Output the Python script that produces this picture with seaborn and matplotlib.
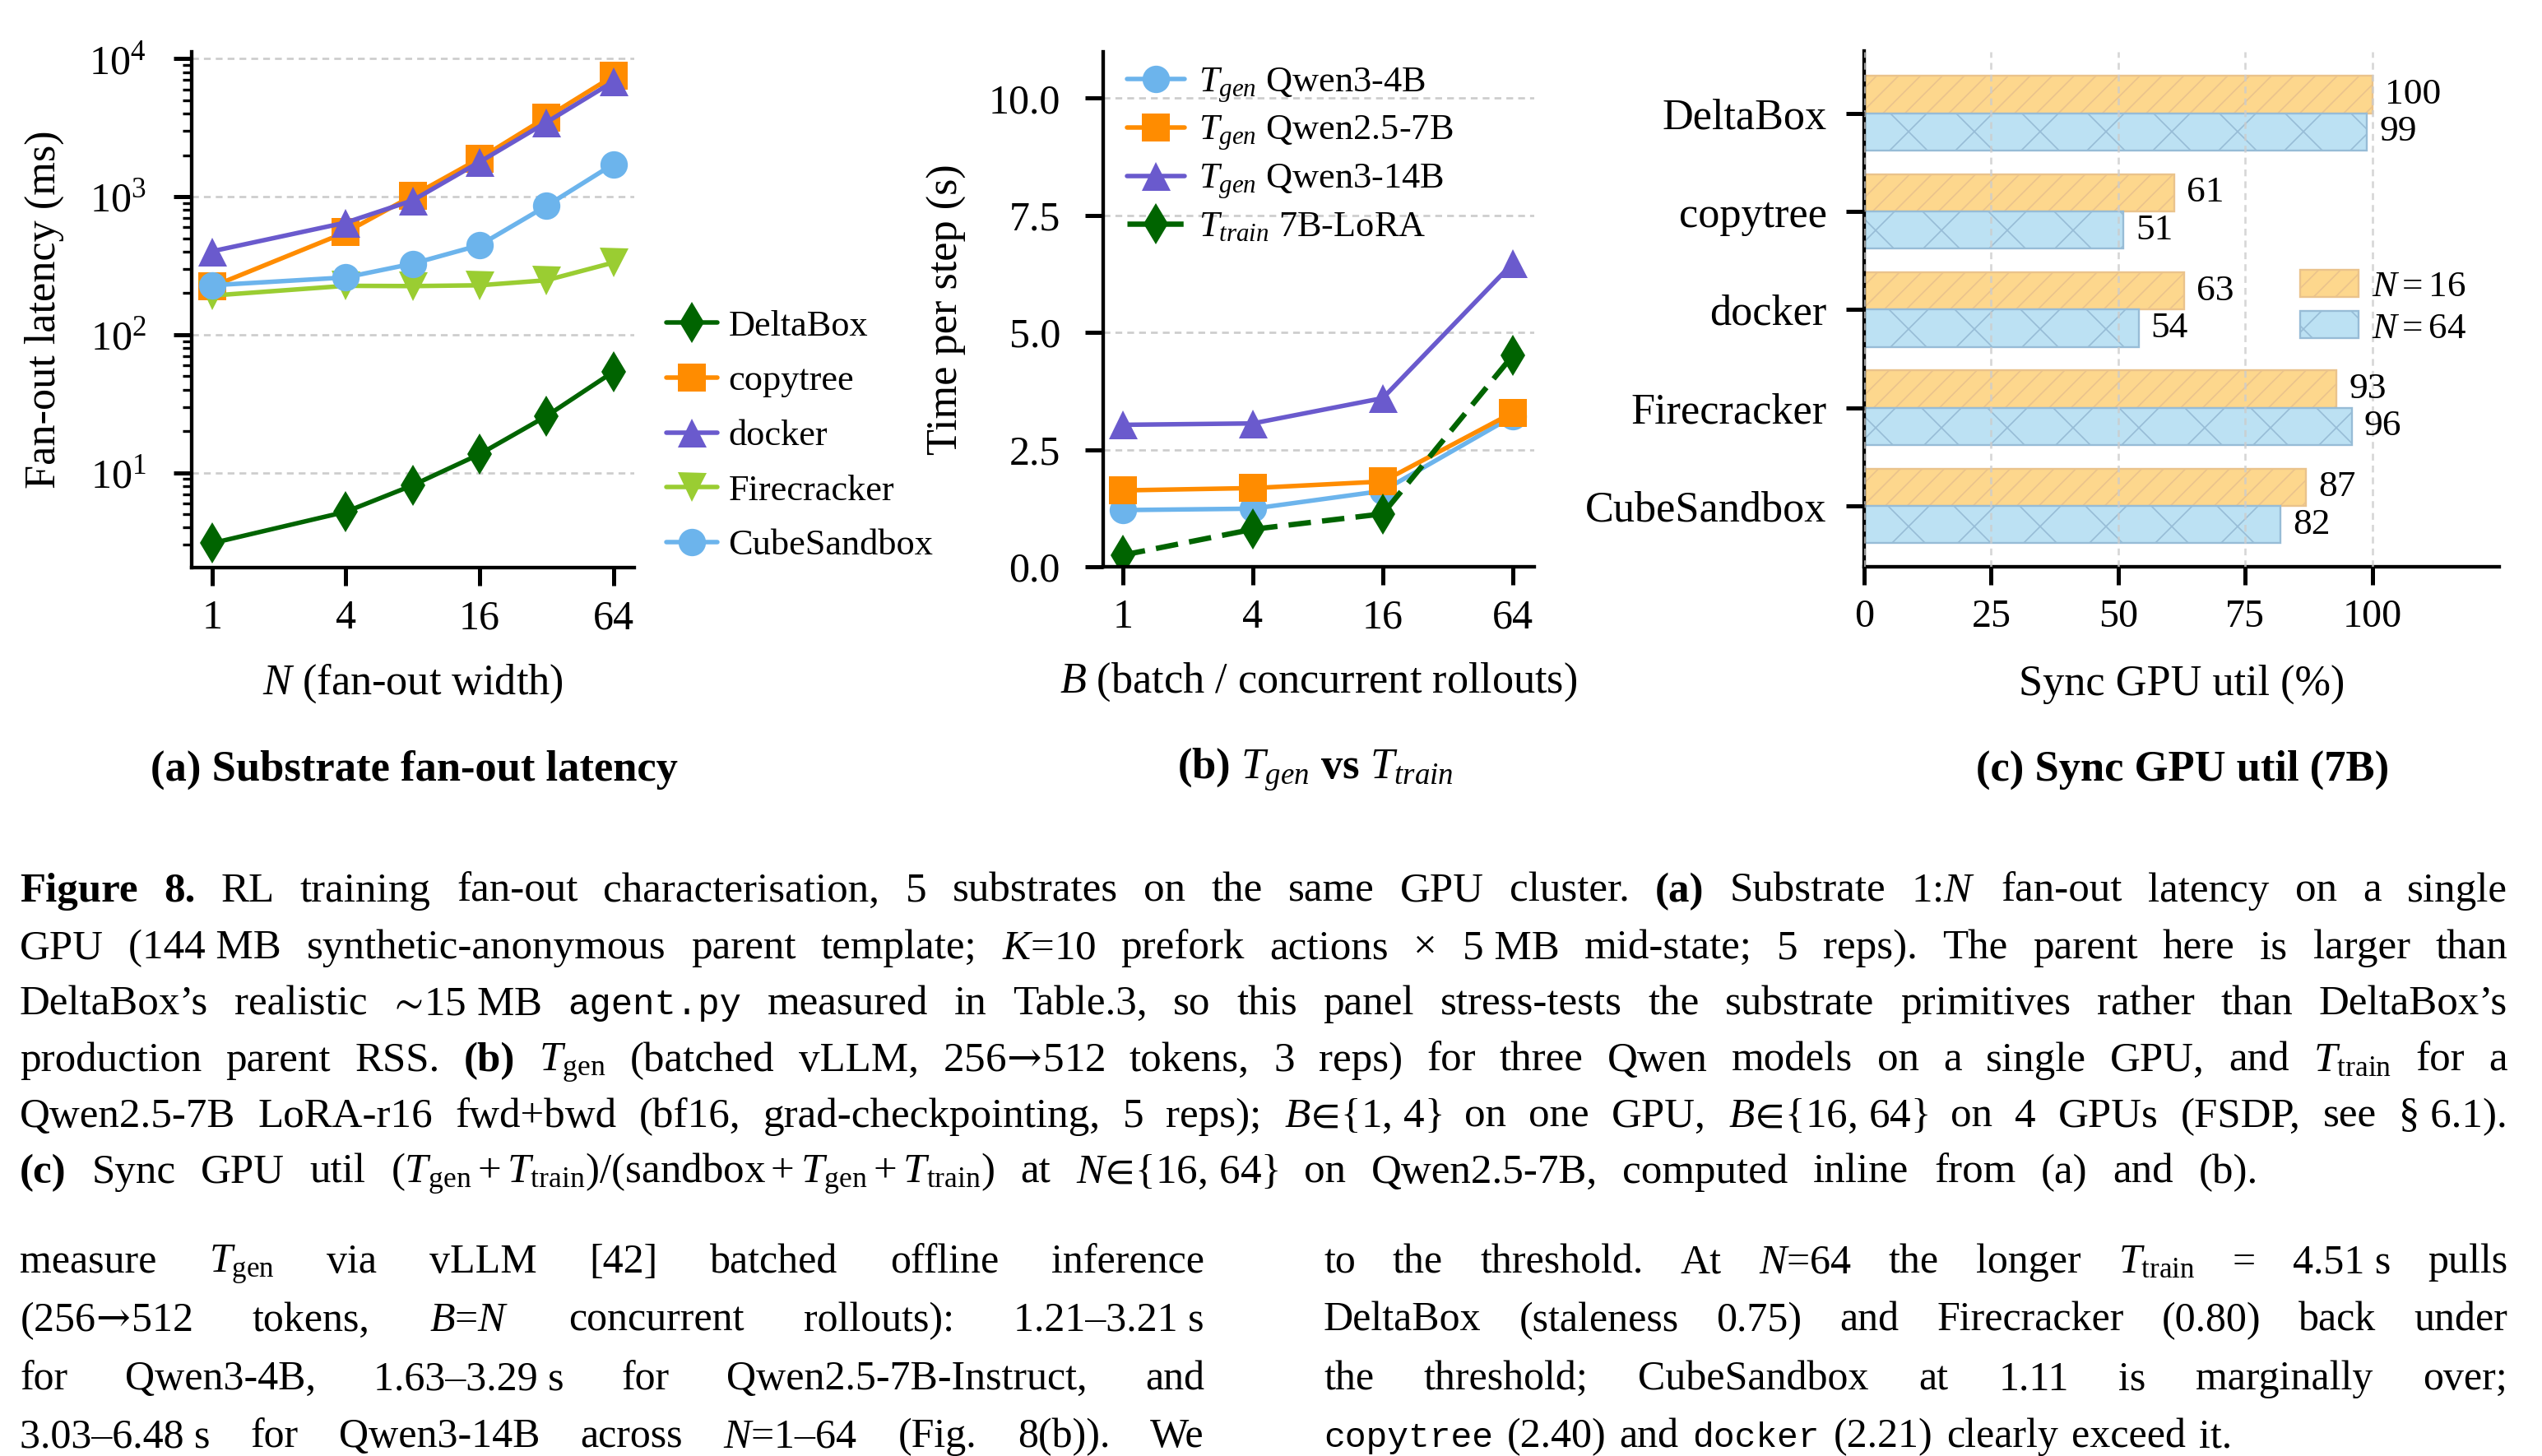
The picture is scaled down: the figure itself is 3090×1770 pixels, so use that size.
import numpy as np
import pandas as pd
import matplotlib
matplotlib.use("Agg")
import matplotlib.pyplot as plt
import seaborn as sns
from matplotlib.lines import Line2D
from matplotlib.patches import Patch
from matplotlib.ticker import NullLocator, FixedLocator, FixedFormatter
from matplotlib.transforms import IdentityTransform

# ---------------- data ----------------
fanout_N = [1, 4, 8, 16, 32, 64]
lat_deltabox = [3.08, 5.2, 8.1, 13.6, 25.7, 53.8]
lat_copytree = [223, 552, 1017, 1889, 3758, 7490]
lat_docker = [402, 649, 940, 1786, 3460, 6820]
lat_firecracker = [192, 226, 225, 228, 248, 333]
lat_cubesandbox = [228, 260, 327, 445, 857, 1722]
fanout_ticks = [1, 4, 16, 64]

batch_B = [1, 4, 16, 64]
tgen_qwen3_4b = [1.21, 1.24, 1.62, 3.21]
tgen_qwen25_7b = [1.63, 1.68, 1.82, 3.29]
tgen_qwen3_14b = [3.03, 3.06, 3.60, 6.48]
ttrain_7b_lora = [0.25, 0.80, 1.13, 4.51]
time_ticks = [0.0, 2.5, 5.0, 7.5, 10.0]

substrates = ["DeltaBox", "copytree", "docker", "Firecracker", "CubeSandbox"]
util_n16 = [100, 61, 63, 93, 87]
util_n64 = [99, 51, 54, 96, 82]
util_ticks = [0, 25, 50, 75, 100]

TG = r"$T_{\mathrm{gen}}$"
TT = r"$T_{\mathrm{train}}$"
ARROW = r"$\!\mathsf{\rightarrow}\!$"
caption_lines = [
    "**Figure **8. RL training fan-out characterisation, 5 substrates on the same GPU cluster. **(a) Substrate 1:$N$ fan-out latency on a single",
    "GPU (144\u00a0MB synthetic-anonymous parent template; $K$=10 prefork actions \u00d7 5\u00a0MB mid-state; 5 reps). The parent here is larger than",
    "DeltaBox\u2019s realistic $\\!\\sim\\!$15\u00a0MB ``agent.py measured in Table.3, so this panel stress-tests the substrate primitives rather than DeltaBox\u2019s",
    "production parent RSS. **(b) " + TG + " (batched vLLM, 256" + ARROW + "512 tokens, 3 reps) for three Qwen models on a single GPU, and " + TT + " for a",
    "Qwen2.5-7B LoRA-r16 fwd+bwd (bf16, grad-checkpointing, 5 reps); $B\\!\\in\\!\\{1,\\,4\\}$ on one GPU, $B\\!\\in\\!\\{16,\\,64\\}$ on 4 GPUs (FSDP, see \u00a7\u00a06.1).",
    "**(c) Sync GPU util $(T_{\\mathrm{gen}}+T_{\\mathrm{train}})/(\\mathrm{sandbox}+T_{\\mathrm{gen}}+T_{\\mathrm{train}})$ at $N\\!\\in\\!\\{16,\\,64\\}$ on Qwen2.5-7B, computed inline from (a) and (b).",
]
body_left = [
    "measure " + TG + " via vLLM [42] batched offline inference",
    "(256" + ARROW + "512 tokens, $B$=$N$ concurrent rollouts): 1.21\u20133.21\u00a0s",
    "for Qwen3-4B, 1.63\u20133.29\u00a0s for Qwen2.5-7B-Instruct, and",
    "3.03\u20136.48\u00a0s for Qwen3-14B across $N$=1\u201364 (Fig. 8(b)). We",
]
body_right = [
    "to the threshold. At $N$=64 the longer " + TT + " = 4.51\u00a0s pulls",
    "DeltaBox (staleness 0.75) and Firecracker (0.80) back under",
    "the threshold; CubeSandbox at 1.11 is marginally over;",
    "``copytree (2.40) and ``docker (2.21) clearly exceed it.",
]

# ---------------- style ----------------
W, H, DPI = 3090, 1770, 240
SERIF = ["Liberation Serif", "DejaVu Serif"]
sns.set_theme(style="ticks")
plt.rcParams.update({
    "font.family": SERIF,
    "mathtext.fontset": "custom",
    "mathtext.rm": "Liberation Serif",
    "mathtext.it": "Liberation Serif:italic",
    "mathtext.bf": "Liberation Serif:bold",
    "mathtext.sf": "DejaVu Serif",
    "mathtext.fallback": "stix",
    "text.color": "black",
    "axes.labelcolor": "black",
    "axes.edgecolor": "black",
    "axes.linewidth": 1.3,
    "xtick.color": "black",
    "ytick.color": "black",
    "xtick.major.size": 6.6,
    "ytick.major.size": 6.6,
    "xtick.major.width": 1.5,
    "ytick.major.width": 1.5,
    "ytick.minor.size": 3.2,
    "ytick.minor.width": 1.0,
    "xtick.major.pad": 5,
    "ytick.major.pad": 9,
    "hatch.linewidth": 0.5,
    "axes.unicode_minus": False,
})

C_DELTA = "#006400"
C_COPY = "#FF8C00"
C_DOCKER = "#6A5ACD"
C_FIRE = "#9ACD32"
C_CUBE = "#6CB4EC"
GRID = dict(color="#cccccc", linewidth=0.8, linestyle=(0, (3.1, 2.3)))

TICK_FS = 15
LABEL_FS = 15.7
LEG_FS = 13.3
TITLE_FS = 15.8
LW = 1.65

fig = plt.figure(figsize=(W / DPI, H / DPI), dpi=DPI)


def rect_px(l, t, r, b):
    return [l / W, 1 - b / H, (r - l) / W, (b - t) / H]


def serif_ticks(ax):
    for lab in ax.get_xticklabels() + ax.get_yticklabels():
        lab.set_fontfamily(SERIF)


# ---------------- panel (a) ----------------
ax1 = fig.add_axes(rect_px(233, 62.5, 771, 690))
series_a = [
    ("DeltaBox", lat_deltabox, C_DELTA, "d", 10.5),
    ("copytree", lat_copytree, C_COPY, "s", 10),
    ("docker", lat_docker, C_DOCKER, "^", 10.5),
    ("Firecracker", lat_firecracker, C_FIRE, "v", 10.5),
    ("CubeSandbox", lat_cubesandbox, C_CUBE, "o", 10),
]
handles_a = []
for name, vals, c, m, ms in series_a:
    sns.lineplot(x=fanout_N, y=vals, ax=ax1, color=c, marker=m, markersize=ms,
                 linewidth=LW, markeredgewidth=0, legend=False)
    handles_a.append(Line2D([], [], color=c, marker=m, markersize=ms, linewidth=LW,
                            markeredgewidth=0, label=name))
ax1.set_xscale("log", base=2)
ax1.set_yscale("log")
ax1.set_xlim(0.81, 79.5)
ax1.set_ylim(2.05, 11300)
ax1.xaxis.set_major_locator(FixedLocator(fanout_ticks))
ax1.xaxis.set_major_formatter(FixedFormatter([str(v) for v in fanout_ticks]))
ax1.xaxis.set_minor_locator(NullLocator())
ax1.tick_params(labelsize=TICK_FS)
ax1.tick_params(axis="y", which="major", pad=10)
ax1.yaxis.grid(True, which="major", **GRID)
ax1.yaxis.grid(False, which="minor")
ax1.xaxis.grid(False)
ax1.set_xlabel("$N$ (fan-out width)", fontsize=LABEL_FS)
ax1.set_ylabel("Fan-out latency (ms)", fontsize=LABEL_FS)
ax1.xaxis.set_label_coords(0.5, -0.183)
ax1.yaxis.set_label_coords(-0.288, 0.5)
sns.despine(ax=ax1)
ax1.legend(handles=handles_a, loc="center left", bbox_to_anchor=(810 / W, 1 - 530 / H),
           bbox_transform=fig.transFigure, frameon=False, borderpad=0, borderaxespad=0,
           handlelength=1.4, handletextpad=0.3, labelspacing=0.6,
           prop={"family": SERIF, "size": LEG_FS})

# ---------------- panel (b) ----------------
ax2 = fig.add_axes(rect_px(1341, 62.5, 1865, 689))
series_b = [
    ("$T_{gen}$ Qwen3-4B", tgen_qwen3_4b, C_CUBE, "o", 10, "-", LW),
    ("$T_{gen}$ Qwen2.5-7B", tgen_qwen25_7b, C_COPY, "s", 10, "-", LW),
    ("$T_{gen}$ Qwen3-14B", tgen_qwen3_14b, C_DOCKER, "^", 10.5, "-", LW),
    ("$T_{train}$ 7B-LoRA", ttrain_7b_lora, C_DELTA, "d", 10.5, (0, (4.2, 2.1)), 1.95),
]
handles_b = []
for name, vals, c, m, ms, ls, lw in series_b:
    sns.lineplot(x=batch_B, y=vals, ax=ax2, color=c, marker=m, markersize=ms,
                 linewidth=lw, linestyle=ls, markeredgewidth=0, legend=False)
    handles_b.append(Line2D([], [], color=c, marker=m, markersize=ms, linewidth=lw,
                            linestyle=ls, markeredgewidth=0, label=name))
ax2.set_xscale("log", base=2)
ax2.set_xlim(0.81, 80.5)
ax2.set_ylim(0, 11.0)
ax2.xaxis.set_major_locator(FixedLocator(batch_B))
ax2.xaxis.set_major_formatter(FixedFormatter([str(v) for v in batch_B]))
ax2.xaxis.set_minor_locator(NullLocator())
ax2.yaxis.set_major_locator(FixedLocator(time_ticks))
ax2.yaxis.set_major_formatter(FixedFormatter([f"{v:.1f}" for v in time_ticks]))
ax2.tick_params(labelsize=TICK_FS)
ax2.yaxis.grid(True, **GRID)
ax2.xaxis.grid(False)
ax2.set_xlabel("$B$ (batch / concurrent rollouts)", fontsize=LABEL_FS)
ax2.set_ylabel("Time per step (s)", fontsize=LABEL_FS)
ax2.xaxis.set_label_coords(0.5, -0.183)
ax2.yaxis.set_label_coords(-0.317, 0.5)
sns.despine(ax=ax2)
ax2.legend(handles=handles_b, loc="center left", bbox_to_anchor=(1370 / W, 1 - 188 / H),
           bbox_transform=fig.transFigure, frameon=False, borderpad=0, borderaxespad=0,
           handlelength=1.57, handletextpad=0.4, labelspacing=0.27,
           prop={"family": SERIF, "size": LEG_FS})

# ---------------- panel (c) ----------------
ax3 = fig.add_axes(rect_px(2266, 62.5, 3038, 689))
F16, E16 = "#FDD78D", "#EAC38C"
F64, E64 = "#BCE1F3", "#97BCD6"
df_c = pd.DataFrame({
    "substrate": substrates * 2,
    "util": util_n16 + util_n64,
    "N": ["N=16"] * len(substrates) + ["N=64"] * len(substrates),
})
sns.barplot(data=df_c, y="substrate", x="util", hue="N", orient="h", ax=ax3,
            order=substrates, hue_order=["N=16", "N=64"], palette=[F16, F64],
            width=0.76, saturation=1, legend=False, errorbar=None)
for cont, hatch, ec in zip(ax3.containers, ["///", "x"], [E16, E64]):
    for bar in cont:
        bar.set_hatch(hatch)
        bar.set_edgecolor(ec)
        bar.set_linewidth(0.7)
    ax3.bar_label(cont, fmt="%d", padding=4.5, fontsize=13.6, family=SERIF)
ax3.set_xlim(0, 125)
ax3.set_ylim(4.62, -0.63)
ax3.xaxis.set_major_locator(FixedLocator(util_ticks))
ax3.tick_params(axis="x", labelsize=14.4)
ax3.tick_params(axis="y", labelsize=15.7, pad=7)
ax3.xaxis.grid(True, alpha=0.8, **GRID)
ax3.yaxis.grid(False)
ax3.set_axisbelow(False)
ax3.set_xlabel("Sync GPU util (%)", fontsize=LABEL_FS)
ax3.set_ylabel("")
ax3.xaxis.set_label_coords(0.5, -0.19)
sns.despine(ax=ax3)
handles_c = [Patch(facecolor=F16, edgecolor=E16, hatch="///", linewidth=0.7, label="$N=16$"),
             Patch(facecolor=F64, edgecolor=E64, hatch="x", linewidth=0.7, label="$N=64$")]
ax3.legend(handles=handles_c, loc="center left", bbox_to_anchor=(2796 / W, 1 - 374 / H),
           bbox_transform=fig.transFigure, frameon=False, borderpad=0, borderaxespad=0,
           handlelength=1.58, handleheight=0.75, handletextpad=0.35, labelspacing=0.2,
           prop={"family": SERIF, "size": 13.5})

for ax in (ax1, ax2, ax3):
    serif_ticks(ax)

# ---------------- sub-captions ----------------
fig.text(503 / W, 1 - 936 / H, "(a) Substrate fan-out latency", ha="center", va="center",
         fontsize=TITLE_FS, fontweight="bold")
fig.text(1599 / W, 1 - 936 / H, "(b) $T_{gen}$ vs $T_{train}$", ha="center", va="center",
         fontsize=TITLE_FS, fontweight="bold")
fig.text(2653 / W, 1 - 936 / H, "(c) Sync GPU util (7B)", ha="center", va="center",
         fontsize=TITLE_FS, fontweight="bold")

# ---------------- caption and body text ----------------
renderer = fig.canvas.get_renderer()


def tok_style(tok):
    if tok.startswith("**"):
        return tok[2:], dict(fontweight="bold")
    if tok.startswith("``"):
        return tok[2:], dict(family=["Liberation Mono", "DejaVu Sans Mono"])
    return tok, {}


def set_line(text, x0, x1, ybase, size, justify=True):
    toks = text.split(" ")
    arts, ws = [], []
    for tk in toks:
        s, kw = tok_style(tk)
        fs = size * (0.86 if "family" in kw else 1.0)
        t = fig.text(0, 0, s, fontsize=fs, ha="left", va="baseline",
                     transform=IdentityTransform(), **kw)
        ws.append(t.get_window_extent(renderer).width)
        arts.append(t)
    if justify and len(toks) > 1:
        gap = (x1 - x0 - sum(ws)) / (len(toks) - 1)
    else:
        gap = 0.33 * size * DPI / 72
    x = x0
    for t, w in zip(arts, ws):
        t.set_position((x, H - ybase))
        x += w + gap


CAP_FS = 15.3
cap_base = [1096, 1165, 1233, 1302, 1370, 1438]
cap_right = [3048, 3048, 3048, 3048, 3048, 2745]
for line, yb, xr in zip(caption_lines, cap_base, cap_right):
    set_line(line, 24, xr, yb, CAP_FS, justify=True)

BODY_FS = 15
body_base = [1547, 1618, 1689, 1759]
for line, yb in zip(body_left, body_base):
    set_line(line, 24, 1464, yb, BODY_FS, justify=True)
for i, (line, yb) in enumerate(zip(body_right, body_base)):
    set_line(line, 1609, 3048, yb, BODY_FS, justify=(i < len(body_right) - 1))

fig.savefig("out.png", dpi=DPI, facecolor="white")
